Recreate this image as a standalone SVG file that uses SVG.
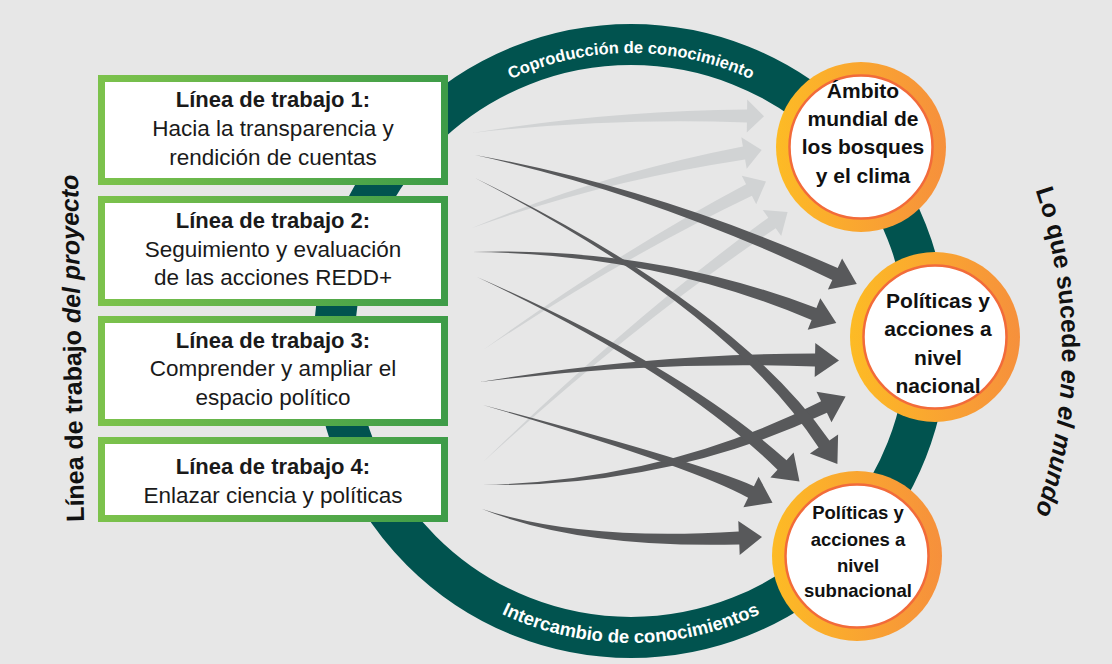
<svg xmlns="http://www.w3.org/2000/svg" width="1112" height="664" viewBox="0 0 1112 664">
<defs>
<linearGradient id="gGreen" x1="0" y1="0" x2="1" y2="0">
<stop offset="0" stop-color="#7cc24c"/><stop offset="1" stop-color="#3e9c48"/>
</linearGradient>
<linearGradient id="gOrange" x1="0" y1="0" x2="1" y2="0">
<stop offset="0" stop-color="#fdbb25"/><stop offset="1" stop-color="#f6903c"/>
</linearGradient>
<path id="topArc" d="M343,341 A288,288 0 0 1 919,341"/>
<path id="botArc" d="M329,341 A302,302 0 0 0 933,341"/>
<path id="rightArc" d="M943.8,27.3 A505,505 0 0 1 943.8,676.7"/>
<style>
text{font-family:"Liberation Sans",Arial,sans-serif;}
.box{fill:#fff;stroke:url(#gGreen);stroke-width:7;}
.bt{font-weight:bold;font-size:22px;fill:#1a1a1a;text-anchor:middle;}
.bl{font-size:22.5px;fill:#1a1a1a;text-anchor:middle;}
.ring{fill:url(#gOrange);}
.inner{fill:#fff;stroke:#f26b3a;stroke-width:2.5;}
.ct{font-weight:bold;font-size:21px;fill:#111;text-anchor:middle;}
.ct3{font-weight:bold;font-size:18.5px;fill:#111;text-anchor:middle;}
.aD{fill:#58595b;}
.aL{fill:#d1d3d4;}
.rt{fill:#fff;font-weight:bold;}
.side{font-weight:bold;font-size:25px;fill:#111;}
</style>
</defs>
<rect width="1112" height="664" fill="#e7e7e7"/>

<g id="cycle">
<circle cx="631" cy="341" r="296.5" fill="none" stroke="#01534f" stroke-width="41"/>
<text class="rt" font-size="16.5"><textPath href="#topArc" startOffset="50%" text-anchor="middle">Coproducción de conocimiento</textPath></text>
<text class="rt" font-size="18.5"><textPath href="#botArc" startOffset="50%" text-anchor="middle">Intercambio de conocimientos</textPath></text>
</g>

<g id="connectors">
<path class="aL" d="M472,133 Q610.2,117.5 746.9,122.5 L746.8,132.5 L764,116.3 L747.2,99.5 L747.1,109.5 Q609.8,110.5 472,133Z"/>
<path class="aL" d="M472,228 Q600.9,181.4 745.1,159.4 L746.7,168.8 L761.7,149.9 L741.3,137.2 L742.9,146.6 Q599.1,174.6 472,228Z"/>
<path class="aL" d="M483,350 Q621.8,258 751.9,195.8 L756.2,204.3 L766,181.4 L741.8,175.7 L746.1,184.2 Q618.2,252 483,350Z"/>
<path class="aL" d="M483,462 Q638.2,320.7 775.7,228.3 L781.2,236.1 L787.6,212.1 L762.8,209.9 L768.3,217.7 Q633.8,315.3 483,462Z"/>
<path class="aD" d="M475,155 Q653.9,194.3 832.3,279.9 L827.9,289.4 L856.8,284.1 L842.1,258.6 L837.7,268.1 Q656.1,187.7 475,155Z"/>
<path class="aD" d="M472,252 Q654.4,253.4 811.6,320 L807.7,329.8 L836.3,323 L820.3,298.2 L816.4,308 Q655.6,246.6 472,252Z"/>
<path class="aD" d="M480,382 Q650.2,360.5 814.9,366.5 L814.7,377 L839,360.4 L815.3,343 L815.1,353.5 Q649.8,353.5 480,382Z"/>
<path class="aD" d="M482,485 Q667.8,487.4 826.9,412.8 L831.5,422.3 L845.6,396.4 L816.5,391.7 L821.1,401.2 Q666.2,480.6 482,485Z"/>
<path class="aD" d="M475,178 Q729.9,309.8 818.6,447.6 L809.9,453.5 L837.4,463.9 L838.1,434.5 L829.4,440.4 Q734.1,304.2 475,178Z"/>
<path class="aD" d="M477,277 Q678.2,372 777.5,469.7 L770.4,477.4 L799.5,481.4 L793.6,452.6 L786.5,460.3 Q681.8,366 477,277Z"/>
<path class="aD" d="M483,405 Q695.9,468.3 748.1,497.8 L743.4,507.2 L772.5,502.7 L758.6,476.8 L753.9,486.2 Q698.1,461.7 483,405Z"/>
<path class="aD" d="M482,509 Q579.6,548.5 739.3,544.5 L739.7,555 L762,537 L738.3,521 L738.7,531.5 Q580.4,541.5 482,509Z"/>
</g>

<g id="lt1">
<rect class="box" x="101.5" y="78.5" width="343" height="103"/>
<text class="bt" x="273" y="107">Línea de trabajo 1:</text>
<text class="bl" x="273" y="136">Hacia la transparencia y</text>
<text class="bl" x="273" y="165">rendición de cuentas</text>
</g>
<g id="lt2">
<rect class="box" x="101.5" y="199.5" width="343" height="103"/>
<text class="bt" x="273" y="228">Línea de trabajo 2:</text>
<text class="bl" x="273" y="257">Seguimiento y evaluación</text>
<text class="bl" x="273" y="285">de las acciones REDD+</text>
</g>
<g id="lt3">
<rect class="box" x="101.5" y="319.5" width="343" height="103"/>
<text class="bt" x="273" y="348">Línea de trabajo 3:</text>
<text class="bl" x="273" y="376">Comprender y ampliar el</text>
<text class="bl" x="273" y="405">espacio político</text>
</g>
<g id="lt4">
<rect class="box" x="101.5" y="440.5" width="343" height="78"/>
<text class="bt" x="273" y="474">Línea de trabajo 4:</text>
<text class="bl" x="273" y="503">Enlazar ciencia y políticas</text>
</g>

<g id="global">
<circle class="ring" cx="861" cy="147" r="85"/>
<circle class="inner" cx="861" cy="147" r="71.5"/>
<text class="ct" x="863" y="98">Ámbito</text>
<text class="ct" x="863" y="126">mundial de</text>
<text class="ct" x="863" y="154">los bosques</text>
<text class="ct" x="863" y="183">y el clima</text>
</g>
<g id="national">
<circle class="ring" cx="935" cy="337" r="85"/>
<circle class="inner" cx="935" cy="337" r="71.5"/>
<text class="ct" x="938" y="308">Políticas y</text>
<text class="ct" x="938" y="336">acciones a</text>
<text class="ct" x="938" y="365">nivel</text>
<text class="ct" x="938" y="393">nacional</text>
</g>
<g id="subnational">
<circle class="ring" cx="857" cy="556" r="85"/>
<circle class="inner" cx="857" cy="556" r="71.5"/>
<text class="ct3" x="858" y="519">Políticas y</text>
<text class="ct3" x="858" y="546">acciones a</text>
<text class="ct3" x="858" y="572">nivel</text>
<text class="ct3" x="858" y="597">subnacional</text>
</g>

<g id="labels">
<text class="side" text-anchor="middle" transform="translate(81,348) rotate(-91)">Línea de trabajo <tspan font-style="italic">del proyecto</tspan></text>
<text class="side" font-size="26.5"><textPath href="#rightArc" startOffset="50%" text-anchor="middle">Lo que sucede <tspan font-style="italic">en el mundo</tspan></textPath></text>
</g>
</svg>
